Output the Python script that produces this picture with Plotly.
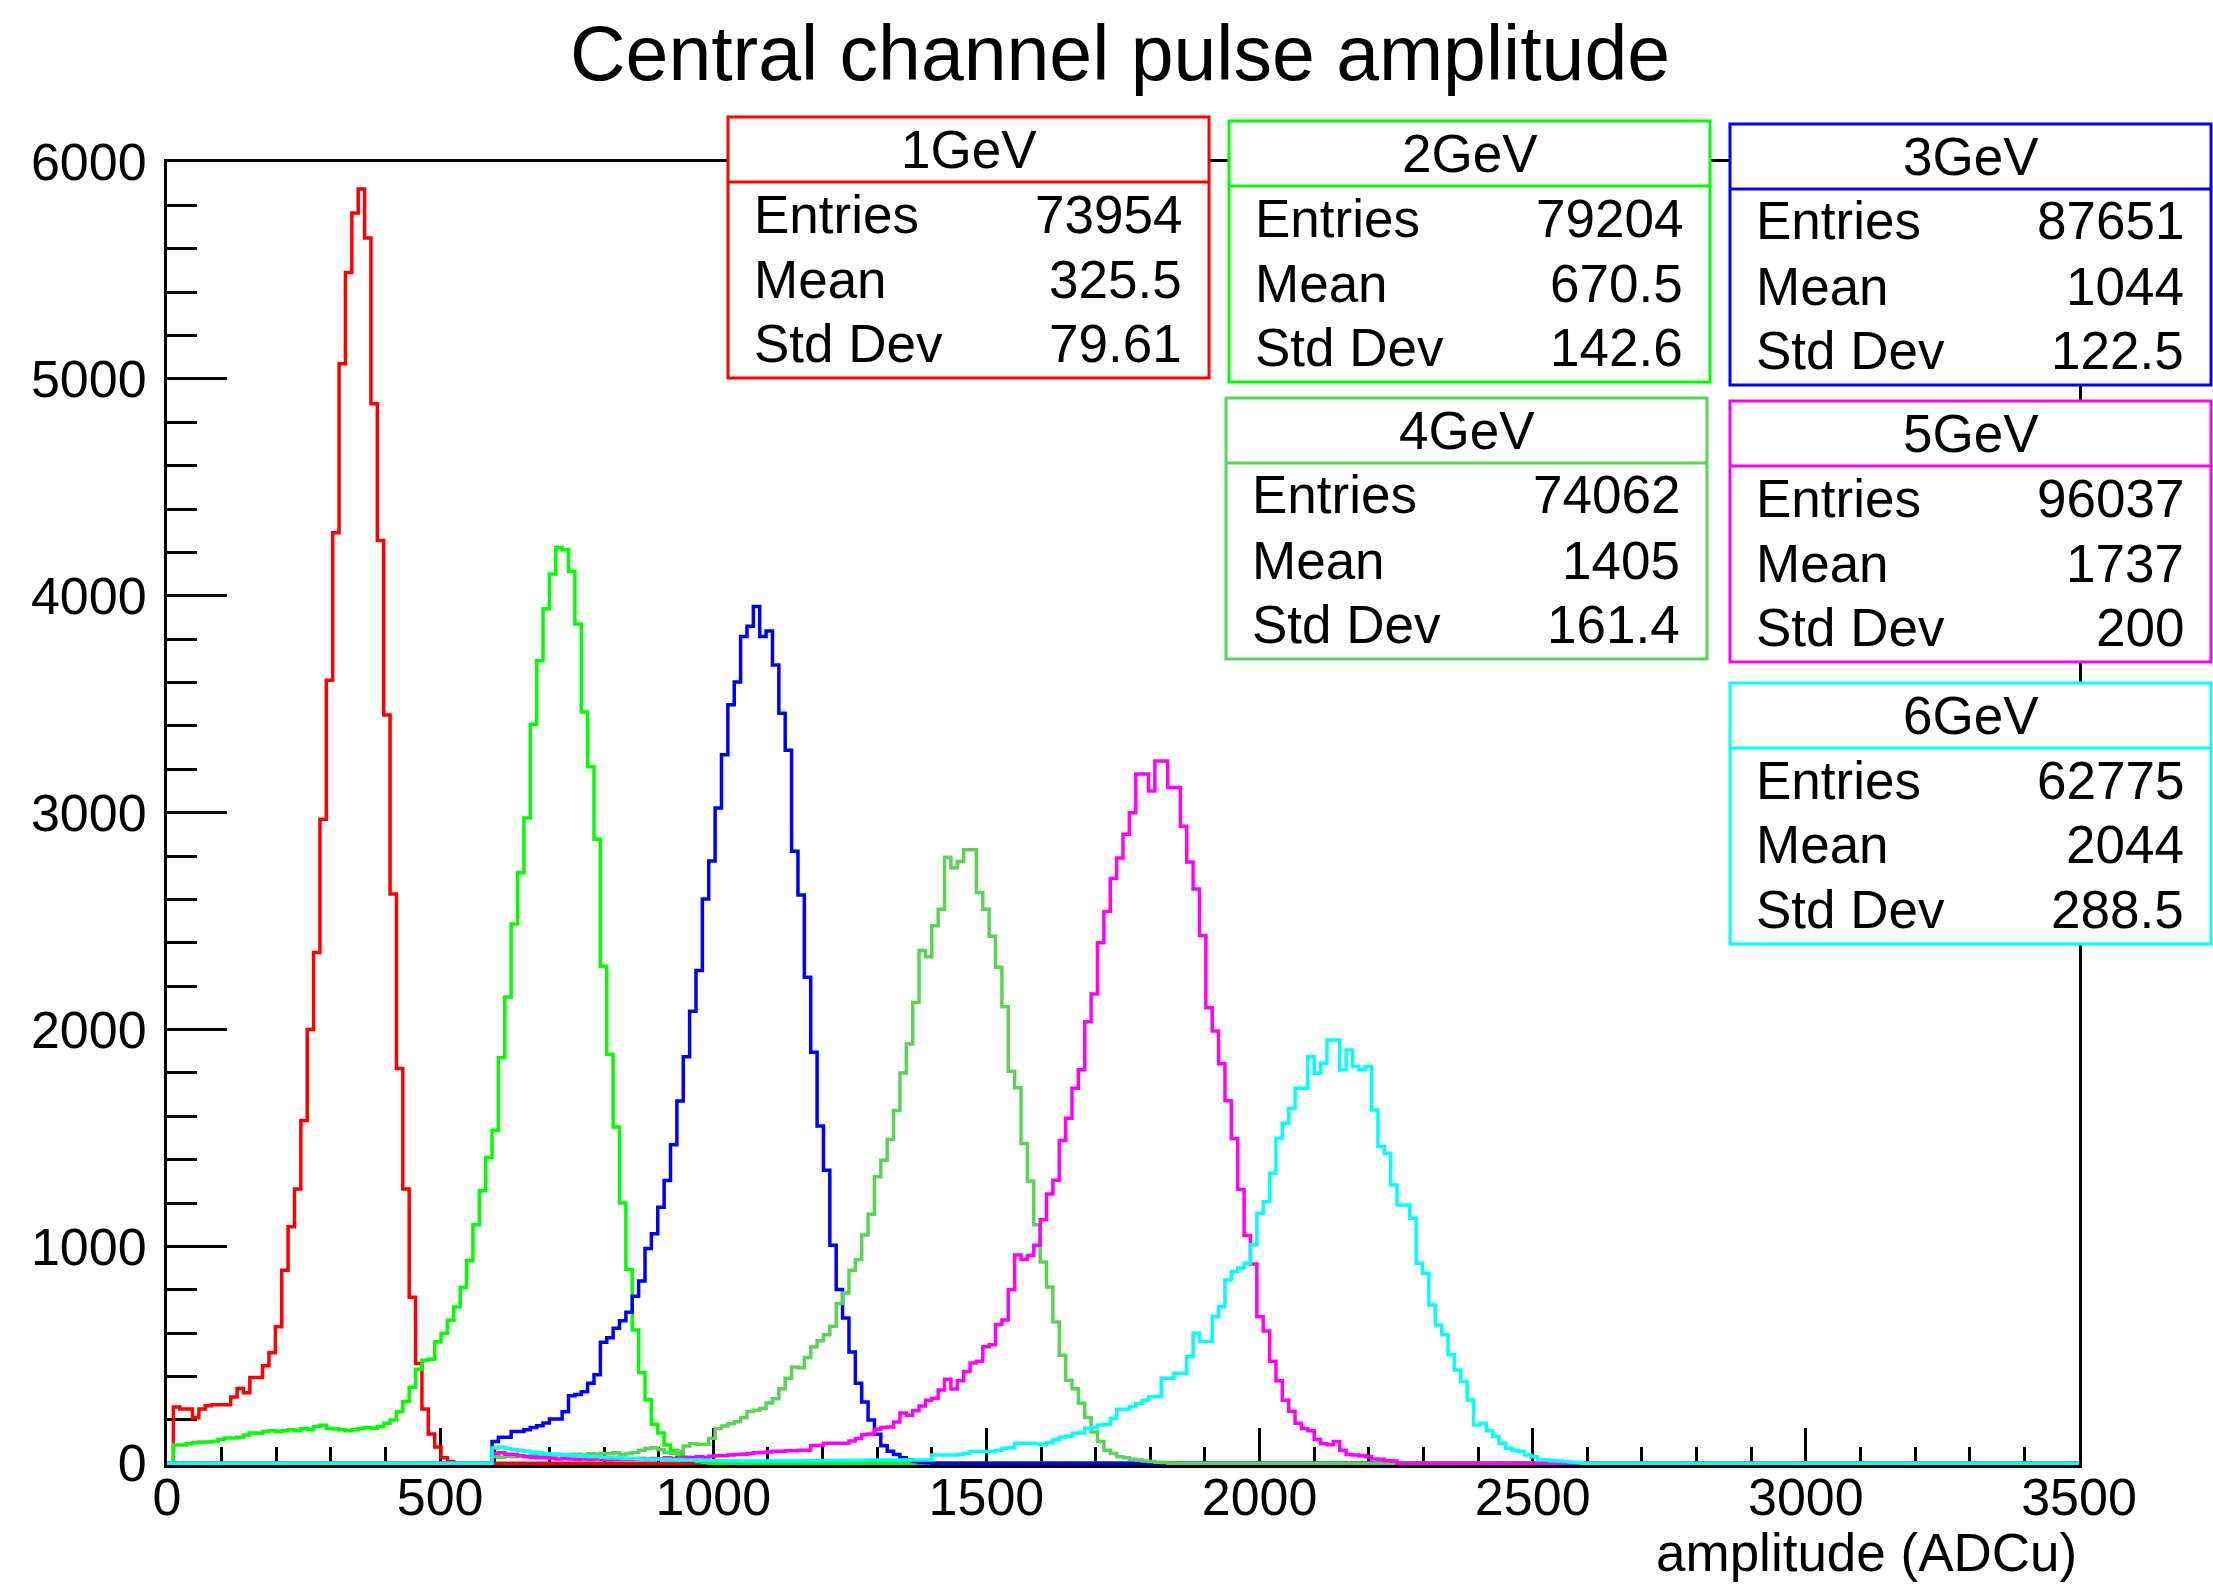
import numpy as np
import plotly.graph_objects as go

# ---------------- data ----------------
N_BINS = 300
X_MIN, X_MAX = 0.0, 3500.0

series_names = ["1GeV", "2GeV", "3GeV", "4GeV", "5GeV", "6GeV"]
series_colors = ["#ff0000", "#00ff00", "#0000ff", "#59d454", "#ff00ff", "#00ffff"]
first_bins = [1, 1, 51, 51, 51, 51]

counts_1gev = [260, 250, 250, 210, 250, 265, 270, 270, 270, 305, 345, 325, 395, 395, 450,
               510, 630, 890, 1090, 1265, 1580, 2000, 2355, 2970, 3610, 4290, 5070, 5490,
               5765, 5875, 5650, 4885, 4255, 3450, 2625, 1820, 1265, 765, 460, 250, 135,
               75, 25, 8]

counts_2gev = [84, 84, 90, 95, 98, 98, 100, 110, 117, 117, 120, 130, 140, 138, 145, 150, 145,
               150, 155, 150, 160, 155, 170, 175, 160, 158, 155, 150, 155, 160, 165, 160, 170,
               185, 200,
               237, 285, 350, 433, 475, 480, 560, 600, 660, 720, 810, 935, 1100, 1257, 1410, 1536,
               1870, 2150, 2486, 2723, 2975, 3408, 3700, 3940, 4100, 4223, 4212, 4112, 3870,
               3464, 3212, 2877,
               2290, 1885, 1550, 1200, 894, 615, 419, 293, 180, 140, 84, 60, 40, 25, 15, 8, 5]

counts_3gev = [100, 120, 120, 147, 147, 155, 165, 173, 186, 204, 204, 238, 311, 317, 330, 369, 408,
               558, 579, 623, 657, 696, 770, 840, 990, 1058, 1180, 1304, 1469, 1670,
               1874, 2084, 2272, 2602, 2777, 3021, 3267, 3497, 3602, 3812, 3859, 3950,
               3812, 3838, 3681, 3458, 3288, 2822, 2620, 2241, 1895, 1555, 1351, 1005,
               801, 670, 513, 369, 283, 199, 134, 81, 55, 40, 25, 15, 8, 4, 2]

counts_4gev = [30, 28, 32, 30, 35, 33, 35, 32, 38, 36, 40, 38, 40, 42, 38, 44, 42, 45, 44, 48,
               42, 45, 50, 60, 68, 72, 62, 50, 45, 55, 80, 90, 88,
               86, 115, 160, 172, 182, 191, 210, 239, 245, 253, 278, 297, 344, 392, 444, 440,
               488, 536, 565, 593, 632,
               737, 785, 890, 938, 1053, 1148, 1321, 1397, 1493, 1627, 1799, 1933, 2124, 2364,
               2335, 2478, 2555,
               2794, 2746, 2775, 2829, 2829, 2632, 2555, 2430, 2287, 2105, 1808, 1732, 1474, 1302,
               1100, 928, 813, 651, 498, 383, 344, 277, 211, 144, 100, 60, 45, 30, 25, 18, 15,
               10, 8, 5, 3]

counts_5gev = [45, 48, 42, 40, 35, 30, 28, 25, 25, 22, 20, 22, 20, 18, 20,
               18, 20, 18, 16, 18, 20, 18, 20, 22, 20, 22, 20, 25, 22, 25, 28, 25, 30, 28, 32,
               35, 35, 38, 40, 42, 45, 48, 50, 52, 55, 55, 58, 58, 60,
               60, 82, 82, 92, 92, 92, 92, 103, 114, 131, 135, 157, 165, 167, 190, 232, 221,
               242, 264, 290, 300, 338,
               387, 343, 380, 423, 462, 470, 537, 547, 640, 661, 800, 960, 940, 958, 1005,
               1123, 1241, 1305,
               1488, 1591, 1729, 1814, 2036, 2164, 2400, 2544, 2696, 2791, 2900, 3000, 3178,
               3178, 3100, 3238, 3238,
               3116, 3116, 2937, 2772, 2648, 2433, 2100, 1993, 1842, 1672, 1496, 1262, 1050, 919,
               676, 610, 470, 380, 290, 240, 185, 160, 150, 110, 90, 85, 100, 60, 40, 38, 35,
               30, 20, 18, 12, 10]

counts_6gev = [70, 75, 68, 62, 58, 55, 50, 48, 45, 42, 40, 38, 36, 35, 32, 30, 30, 28, 26, 25,
               24, 22, 22, 20, 20, 18, 18, 18, 16, 16, 15, 15, 14, 14, 13, 12, 12, 12, 11, 11,
               10, 10, 10, 10, 10, 10, 10, 11, 11, 12, 12, 12, 12, 13, 13, 13, 14, 14, 14, 15,
               15, 15, 14, 14, 15, 15, 15, 15,
               15, 38, 38, 38, 38, 40, 45, 54, 54, 54, 54, 60, 69, 72, 92, 92, 92, 90, 85, 95,
               108, 120, 125, 138, 140, 161, 165, 177, 180, 207, 249, 249,
               261, 275, 290, 307, 307, 392, 392, 415, 415, 492, 600, 561, 561, 676, 722, 845,
               884, 900, 922, 1007,
               1153, 1206, 1337, 1499, 1568, 1637, 1729, 1729, 1875, 1798, 1844, 1952, 1952,
               1814, 1906, 1829, 1814, 1829, 1629, 1460,
               1429, 1283, 1191, 1191, 1130, 922, 876, 730, 638, 592, 500, 430, 377, 292, 177,
               184, 150, 123, 92, 69, 60, 54, 38, 30, 15, 15, 12, 10, 8, 6, 4]

series_counts = [counts_1gev, counts_2gev, counts_3gev, counts_4gev, counts_5gev, counts_6gev]

stat_entries = ["73954", "79204", "87651", "74062", "96037", "62775"]
stat_means = ["325.5", "670.5", "1044", "1405", "1737", "2044"]
stat_stddevs = ["79.61", "142.6", "122.5", "161.4", "200", "288.5"]

x_tick_vals = [0, 500, 1000, 1500, 2000, 2500, 3000, 3500]
y_tick_vals = [0, 1000, 2000, 3000, 4000, 5000, 6000]

title_text = "Central channel pulse amplitude"
x_title_text = "amplitude (ADCu)"

# ---------------- layout geometry ----------------
W, H = 2213, 1585
ML, MR, MT, MB = 167, 134, 162, 120
PW = W - ML - MR
PH = H - MT - MB
FONT = "Liberation Sans, Arial, Helvetica, sans-serif"


def px_x(px):
    return (px - ML) / PW


def px_y(py):
    return (H - MB - py) / PH


edges = np.linspace(X_MIN, X_MAX, N_BINS + 1)

fig = go.Figure()
for name, color, start, vals in zip(series_names, series_colors, first_bins, series_counts):
    full = np.zeros(N_BINS)
    full[start:start + len(vals)] = vals
    yv = np.append(full, full[-1])
    fig.add_trace(go.Scatter(x=edges, y=yv, mode="lines", line=dict(color=color, width=3.5, shape="hv"),
                             name=name, showlegend=False, hoverinfo="skip"))

# stats boxes
box_left = [728, 1229, 1730, 1226, 1730, 1730]
box_top = [117, 121, 124, 398, 401, 683]
BOX_W, BOX_H, HEAD_H = 481, 261, 65
shapes = []
annotations = []
for i, name in enumerate(series_names):
    x0 = box_left[i]
    x1 = x0 + BOX_W
    t = box_top[i]
    b = t + BOX_H
    c = series_colors[i]
    shapes.append(dict(type="rect", xref="paper", yref="paper", x0=px_x(x0), x1=px_x(x1),
                       y0=px_y(b), y1=px_y(t), fillcolor="white", line=dict(color=c, width=3),
                       layer="above"))
    shapes.append(dict(type="line", xref="paper", yref="paper", x0=px_x(x0), x1=px_x(x1),
                       y0=px_y(t + HEAD_H), y1=px_y(t + HEAD_H), line=dict(color=c, width=3),
                       layer="above"))
    annotations.append(dict(text=name, xref="paper", yref="paper", x=px_x((x0 + x1) / 2),
                            y=px_y(t + HEAD_H / 2), xanchor="center", yanchor="middle",
                            showarrow=False, font=dict(size=53, color="black", family=FONT)))
    for lab, val, off in zip(["Entries", "Mean", "Std Dev"],
                             [stat_entries[i], stat_means[i], stat_stddevs[i]],
                             [97, 162, 226]):
        annotations.append(dict(text=lab, xref="paper", yref="paper", x=px_x(x0 + 24),
                                y=px_y(t + off), xanchor="left", yanchor="middle",
                                showarrow=False, font=dict(size=53, color="black", family=FONT)))
        annotations.append(dict(text=val, xref="paper", yref="paper", x=px_x(x1 - 25),
                                y=px_y(t + off), xanchor="right", yanchor="middle",
                                showarrow=False, font=dict(size=53, color="black", family=FONT)))

annotations.append(dict(text=x_title_text, xref="paper", yref="paper", x=1.0, y=px_y(1552),
                        xanchor="right", yanchor="middle", showarrow=False,
                        font=dict(size=53, color="black", family=FONT)))

fig.update_layout(
    width=W, height=H, autosize=False,
    margin=dict(l=ML, r=MR, t=MT, b=MB, pad=0),
    paper_bgcolor="white", plot_bgcolor="white",
    title=dict(text=title_text, x=1120 / W, xref="container",
               xanchor="center", y=1 - 53 / H, yref="container", yanchor="middle",
               font=dict(size=77, color="black", family=FONT)),
    shapes=shapes, annotations=annotations, hovermode=False,
    font=dict(family=FONT, color="black"),
)
fig.update_xaxes(range=[X_MIN, X_MAX], tickvals=x_tick_vals, ticktext=[str(v) for v in x_tick_vals],
                 ticks="inside", ticklen=37, tickwidth=2.5, tickcolor="black",
                 minor=dict(ticks="inside", dtick=100, tick0=0, ticklen=18, tickwidth=2.5, tickcolor="black"),
                 showline=True, linecolor="black", linewidth=3, mirror=True,
                 showgrid=False, zeroline=False, layer="below traces",
                 tickfont=dict(size=52, color="black", family=FONT), ticklabelstandoff=-15)
fig.update_yaxes(range=[-8, 6000], tickvals=y_tick_vals, ticktext=[str(v) for v in y_tick_vals],
                 ticks="inside", ticklen=60, tickwidth=2.5, tickcolor="black",
                 minor=dict(ticks="inside", dtick=200, tick0=0, ticklen=30, tickwidth=2.5, tickcolor="black"),
                 showline=True, linecolor="black", linewidth=3, mirror=True,
                 showgrid=False, zeroline=False, layer="below traces",
                 tickfont=dict(size=52, color="black", family=FONT), ticklabelstandoff=7)

fig.write_html("out.html", config={"displayModeBar": False})
